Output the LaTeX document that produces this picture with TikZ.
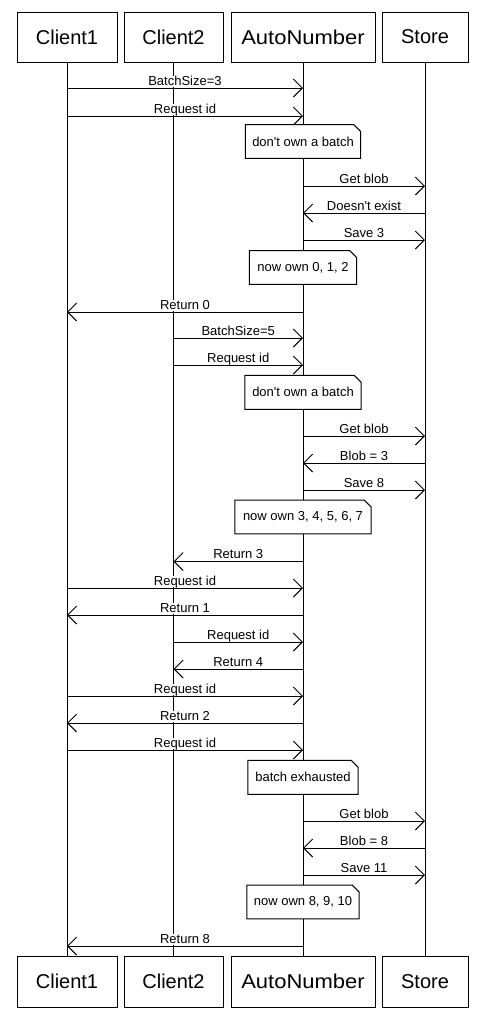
\documentclass[tikz,border=0pt]{standalone}
\usepackage{fontspec}
\setmainfont{Liberation Sans}
\usetikzlibrary{arrows.meta}
\newcommand{\seqmsg}[4]{%
  \draw[msg] (#1 |- 0,#3) -- (#2 |- 0,#3)
    node[midway, lbl, yshift=2.8pt] {#4};}
\newcommand{\seqnote}[4]{%
  \node[notebox, minimum width=#2pt] (#1) at (ant |- 0,#3) {#4};
  \draw[noteline] (#1.south west) -- (#1.north west) -- ([xshift=-7pt]#1.north east)
    -- ([yshift=-7pt]#1.north east) -- (#1.south east) -- cycle;}
\begin{document}
\begin{tikzpicture}[x=1pt,y=-1pt,
  actor/.style={draw, line width=1pt, fill=white, inner sep=0pt,
    font=\fontsize{20}{24}\selectfont},
  life/.style={line width=1pt},
  msg/.style={line width=1pt, -{Straight Barb[length=9pt,width=18pt,line width=1pt]}},
  lbl/.style={fill=white, inner xsep=1pt, inner ysep=0pt, text height=9.5pt,
    text depth=1.5pt, anchor=base, font=\fontsize{13}{15}\selectfont},
  notebox/.style={fill=white, inner sep=0pt, minimum height=33.5pt,
    font=\fontsize{13}{15}\selectfont},
  noteline/.style={line width=1pt, line join=miter},
]
\useasboundingbox (0,0) rectangle (479,1029);

% top actors
\node[actor, minimum width=100pt, minimum height=50pt] (c1t) at (67,37) {Client1};
\node[actor, minimum width=99pt, minimum height=50pt] (c2t) at (173.5,37) {Client2};
\node[actor, minimum width=144pt, minimum height=50pt] (ant) at (303,37) {\scalebox{1.1}[1]{AutoNumber}};
\node[actor, minimum width=86pt, minimum height=50pt] (stt) at (425,37) {Store};
% bottom actors
\node[actor, minimum width=100pt, minimum height=51pt] (c1b) at (67,981.5) {Client1};
\node[actor, minimum width=99pt, minimum height=51pt] (c2b) at (173.5,981.5) {Client2};
\node[actor, minimum width=144pt, minimum height=51pt] (anb) at (303,981.5) {\scalebox{1.1}[1]{AutoNumber}};
\node[actor, minimum width=86pt, minimum height=51pt] (stb) at (425,981.5) {Store};

% lifelines
\draw[life] (c1t.south) -- (c1b.north);
\draw[life] (c2t.south) -- (c2b.north);
\draw[life] (ant.south) -- (anb.north);
\draw[life] (stt.south) -- (stb.north);

% messages and notes
\seqmsg{c1t}{ant}{88}{BatchSize=3}
\seqmsg{c1t}{ant}{116}{Request id}
\seqnote{n1}{115}{141.5}{don\textquotesingle t own a batch}
\seqmsg{ant}{stt}{186}{Get blob}
\seqmsg{stt}{ant}{213}{Doesn\textquotesingle t exist}
\seqmsg{ant}{stt}{240}{Save 3}
\seqnote{n2}{107}{267.5}{now own 0, 1, 2}
\seqmsg{ant}{c1t}{312}{Return 0}
\seqmsg{c2t}{ant}{338}{BatchSize=5}
\seqmsg{c2t}{ant}{365}{Request id}
\seqnote{n3}{116}{392.3}{don\textquotesingle t own a batch}
\seqmsg{ant}{stt}{436}{Get blob}
\seqmsg{stt}{ant}{463}{Blob = 3}
\seqmsg{ant}{stt}{490}{Save 8}
\seqnote{n4}{136}{517}{now own 3, 4, 5, 6, 7}
\seqmsg{ant}{c2t}{561.5}{Return 3}
\seqmsg{c1t}{ant}{588}{Request id}
\seqmsg{ant}{c1t}{615}{Return 1}
\seqmsg{c2t}{ant}{642}{Request id}
\seqmsg{ant}{c2t}{669}{Return 4}
\seqmsg{c1t}{ant}{696}{Request id}
\seqmsg{ant}{c1t}{723}{Return 2}
\seqmsg{c1t}{ant}{750}{Request id}
\seqnote{n5}{110}{777.3}{batch exhausted}
\seqmsg{ant}{stt}{821}{Get blob}
\seqmsg{stt}{ant}{848}{Blob = 8}
\seqmsg{ant}{stt}{875}{Save 11}
\seqnote{n6}{112}{902}{now own 8, 9, 10}
\seqmsg{ant}{c1t}{946}{Return 8}
\end{tikzpicture}
\end{document}
